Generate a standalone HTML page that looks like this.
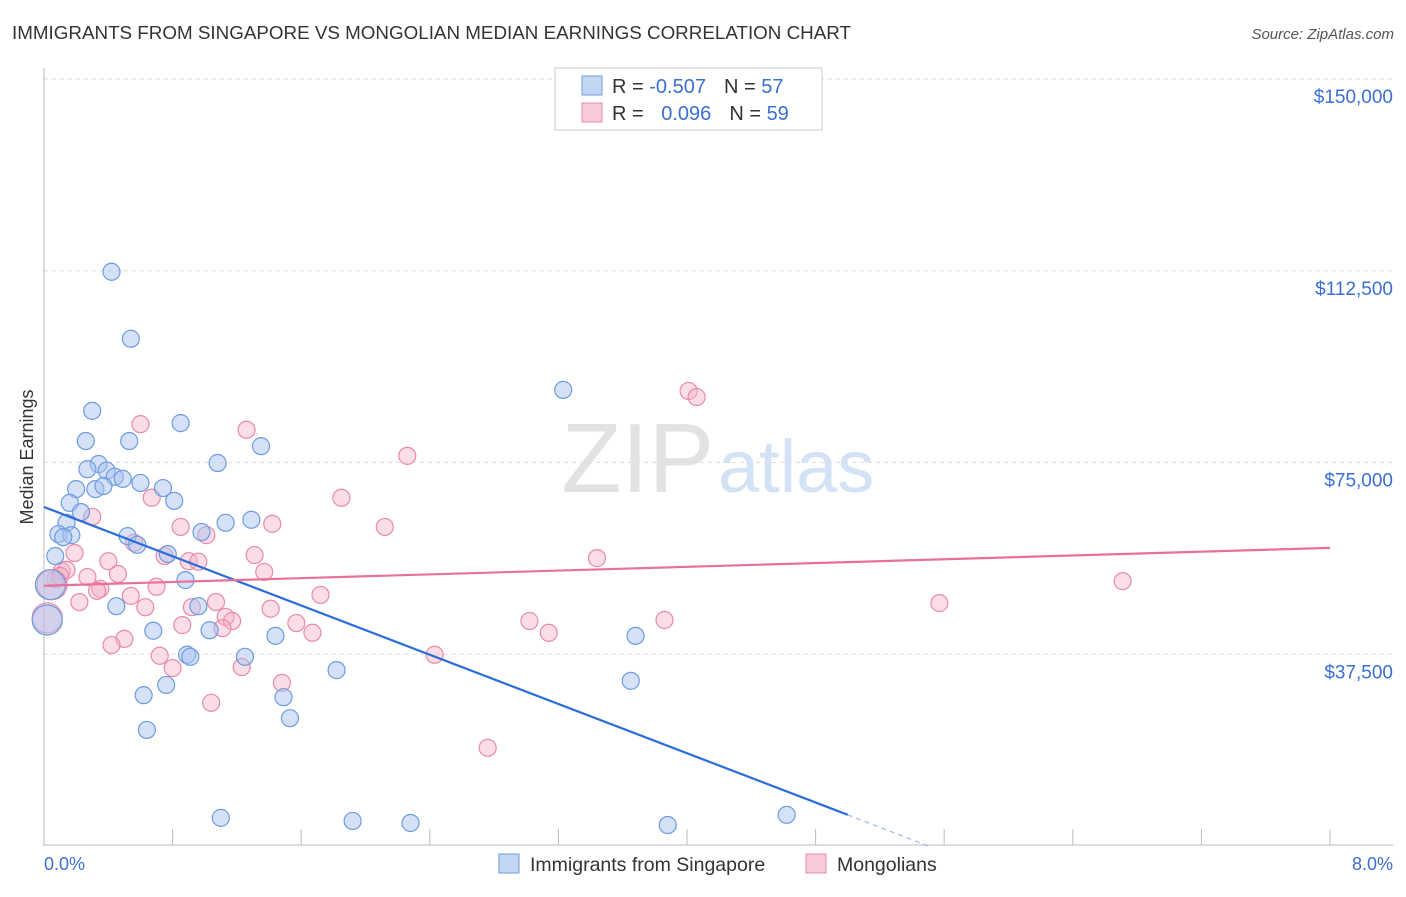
<!DOCTYPE html>
<html><head><meta charset="utf-8"><style>
body{margin:0;background:#fff;font-family:"Liberation Sans",sans-serif;}
svg text{font-family:"Liberation Sans",sans-serif;}
</style></head><body>
<svg width="1406" height="892" xmlns="http://www.w3.org/2000/svg">
<text x="12" y="39" font-size="18" fill="#333" textLength="839" lengthAdjust="spacingAndGlyphs">IMMIGRANTS FROM SINGAPORE VS MONGOLIAN MEDIAN EARNINGS CORRELATION CHART</text>
<text x="1394" y="39" font-size="15" fill="#555" font-style="italic" text-anchor="end">Source: ZipAtlas.com</text>
<g id="grid"></g>
<text x="714" y="492" font-size="98" fill="#e2e2e2" font-family="Liberation Serif" text-anchor="end">ZIP</text>
<text x="718" y="492" font-size="74" fill="#d3e2f5">atlas</text>
<line x1="44" y1="68" x2="44" y2="846" stroke="#bbb"/>
<line x1="44" y1="845" x2="1393" y2="845" stroke="#bbb"/>
<g id="ticks"></g>
<text x="33" y="457" font-size="18" fill="#333" transform="rotate(-90 33 457)" text-anchor="middle">Median Earnings</text>
<text x="44" y="870" font-size="18" fill="#3b6fd4">0.0%</text>
<text x="1393" y="870" font-size="18" fill="#3b6fd4" text-anchor="end">8.0%</text>
<g id="pts"></g>
<g id="lines"></g>
<g>
<rect x="555" y="68" width="267" height="62" fill="#fff" stroke="#ccc"/>
<rect x="582" y="76" width="20" height="19" fill="#c3d7f5" stroke="#6d9be0"/>
<rect x="582" y="103" width="20" height="19" fill="#f9cbda" stroke="#e88aa8"/>
<text x="612" y="93" font-size="20" fill="#333">R = <tspan fill="#3b6fd4">-0.507</tspan><tspan dx="18">N = </tspan><tspan fill="#3b6fd4">57</tspan></text>
<text x="612" y="120" font-size="20" fill="#333">R = <tspan fill="#3b6fd4" dx="12">0.096</tspan><tspan dx="18">N = </tspan><tspan fill="#3b6fd4">59</tspan></text>
</g>
<g>
<rect x="499" y="854" width="20" height="19" fill="#c3d7f5" stroke="#6d9be0"/>
<text x="530" y="871" font-size="19.5" fill="#333">Immigrants from Singapore</text>
<rect x="806" y="854" width="20" height="19" fill="#f9cbda" stroke="#e88aa8"/>
<text x="837" y="871" font-size="19.5" fill="#333">Mongolians</text>
</g>
</svg>
<script>
const yTicks=[150000,112500,75000,37500];
const yTickLabels=["$150,000","$112,500","$75,000","$37,500"];
const xTicks=[0,0.8,1.6,2.4,3.2,4.0,4.8,5.6,6.4,7.2,8.0];
const blueX=[.42,.54,.30,.85,.26,.53,1.35,1.08,.34,.27,.39,.44,.49,.60,.20,.32,.37,.74,.16,.81,.23,.14,1.29,1.13,.98,.09,.17,.52,.12,.58,.07,.77,.88,.45,.96,1.03,.68,1.44,1.25,.89,.91,1.82,.76,.62,1.49,1.53,.64,3.23,3.68,3.65,1.10,1.92,2.28,3.88,4.62,.04,.02];
const blueY=[112.3,99.2,85.1,82.7,79.2,79.2,78.2,74.9,74.7,73.7,73.4,72.2,71.8,71.0,69.8,69.8,70.4,70.0,67.1,67.5,65.3,63.2,63.8,63.2,61.4,61.0,60.8,60.6,60.4,58.9,56.7,57.1,52.0,46.9,46.9,42.2,42.1,41.1,37.0,37.4,37.0,34.4,31.5,29.5,29.1,25.0,22.7,89.2,41.1,32.3,5.5,4.9,4.5,4.1,6.1,51.1,44.2];
const blueBig=[55,56];
const pinkX=[4.01,4.06,.60,1.26,2.26,1.85,.67,2.12,.30,.85,1.42,1.01,.56,.75,.19,.40,.90,.96,1.31,3.44,.11,.14,.27,.46,1.37,6.71,.07,.10,.70,.35,.33,.54,1.72,.22,.63,1.07,1.41,.92,5.57,1.13,1.17,.86,1.57,3.02,3.86,1.11,1.67,3.14,.50,.42,.72,.80,1.23,2.43,1.48,1.04,2.76,.05,.02];
const pinkY=[89.0,87.8,82.5,81.4,76.3,68.1,68.1,62.4,64.4,62.4,63.0,60.8,59.3,56.7,57.3,55.7,55.7,55.6,56.9,56.3,53.8,54.0,52.6,53.2,53.6,51.8,52.2,52.8,50.7,50.3,49.9,48.9,49.1,47.7,46.7,47.7,46.4,46.7,47.5,44.8,44.0,43.2,43.6,44.0,44.2,42.6,41.7,41.7,40.5,39.3,37.2,34.8,35.0,37.4,31.9,28.0,19.2,51.1,44.6];
const pinkBig=[57,58];
const blueTrend=[[0,66.3],[5.0,6.1],[5.5,0]];
const pinkTrend=[[0,50.9],[8,58.3]];
const NS="http://www.w3.org/2000/svg";
const xs=p=>44+p*160.75;
const ys=v=>846-v/150000*767;
function mk(t,a,parent){const e=document.createElementNS(NS,t);for(const k in a)e.setAttribute(k,a[k]);document.getElementById(parent).appendChild(e);return e;}
yTicks.forEach((v,i)=>{
 const l=mk('line',{x1:44,x2:1393,y1:ys(v),y2:ys(v),stroke:'#ddd','stroke-dasharray':'4 4'},'grid');
 
 
 const t=mk('text',{x:1393,y:ys(v)+24,'font-size':19,fill:'#3b6fd4','text-anchor':'end'},'grid');
 t.textContent=yTickLabels[i];
 
 
});
xTicks.forEach(p=>{
 const l=mk('line',{x1:xs(p),x2:xs(p),y1:829,y2:845,stroke:'#bbb'},'ticks');
 
 
});
pinkX.forEach((x,i)=>{
 const big=pinkBig.includes(i);
 const c=mk('circle',{cx:xs(x),cy:ys(pinkY[i]*1000),r:big?15:8.5,fill:'#f5b3c8','fill-opacity':0.45,stroke:'#e88aa8','stroke-width':1.2},'pts');
 
 
});
blueX.forEach((x,i)=>{
 const big=blueBig.includes(i);
 const c=mk('circle',{cx:xs(x),cy:ys(blueY[i]*1000),r:big?15:8.5,fill:'#a9c4f0','fill-opacity':0.5,stroke:'#6d9be0','stroke-width':1.2},'pts');
 
 
});
let b1=mk('line',{x1:xs(blueTrend[0][0]),y1:ys(blueTrend[0][1]*1000),x2:xs(blueTrend[1][0]),y2:ys(blueTrend[1][1]*1000),stroke:'#2a6dd9','stroke-width':2.2},'lines');


let b2=mk('line',{x1:xs(blueTrend[1][0]),y1:ys(blueTrend[1][1]*1000),x2:xs(blueTrend[2][0]),y2:ys(blueTrend[2][1]*1000),stroke:'#9bb8e8','stroke-width':1.2,'stroke-dasharray':'5 4'},'lines');


let p1=mk('line',{x1:xs(pinkTrend[0][0]),y1:ys(pinkTrend[0][1]*1000),x2:xs(pinkTrend[1][0]),y2:ys(pinkTrend[1][1]*1000),stroke:'#e8709a','stroke-width':2.2},'lines');


</script>
</body></html>
